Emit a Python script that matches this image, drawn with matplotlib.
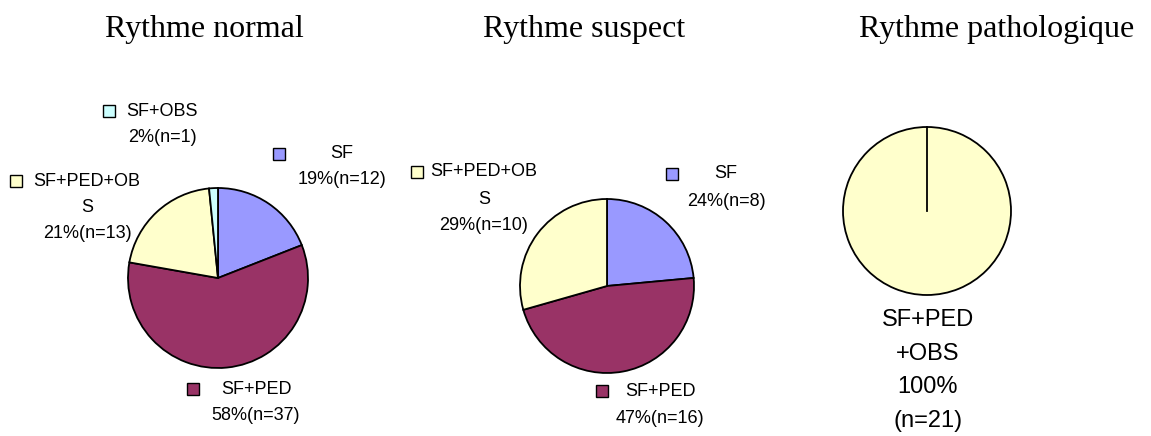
import numpy as np
import matplotlib.pyplot as plt

# données
titles = ['Rythme normal', 'Rythme suspect', 'Rythme pathologique']

cat_normal = ['SF', 'SF+PED', 'SF+PED+OBS', 'SF+OBS']
n_normal = [12, 37, 13, 1]
pct_normal = [19, 58, 21, 2]

cat_suspect = ['SF', 'SF+PED', 'SF+PED+OBS']
n_suspect = [8, 16, 10]
pct_suspect = [24, 47, 29]

cat_patho = ['SF+PED+OBS']
n_patho = [21]
pct_patho = [100]

colors = {'SF': '#9999FF', 'SF+PED': '#993366',
          'SF+PED+OBS': '#FFFFCC', 'SF+OBS': '#CCFFFF'}

W, H = 1151, 436
fig = plt.figure(figsize=(W / 100, H / 100), dpi=100)
ax = fig.add_axes([0, 0, 1, 1])

def yy(y_img):
    # coordonnées image -> coordonnées axes (y vers le haut)
    return H - y_img

def draw_pie(cats, counts, cx, cy, r):
    ax.pie(counts, colors=[colors[c] for c in cats], center=(cx, yy(cy)), radius=r,
           startangle=90, counterclock=False,
           wedgeprops=dict(edgecolor='black', linewidth=1.3))

def draw_label(lines, tx, ty, color=None, mx=None, fs=13, step=27):
    for i, line in enumerate(lines):
        ax.text(tx, yy(ty + i * step), line, ha='center', va='center',
                fontsize=fs, family='Liberation Sans')
    if mx is not None:
        ax.plot(mx, yy(ty), marker='s', ms=8.5, mfc=color, mec='black', mew=1.0)

def lbl(cat, n, p):
    name = cat if len(cat) <= 9 else cat[:9] + '\n' + cat[9:]
    return name.split('\n') + ['%d%%(n=%d)' % (p, n)]

# titres
for t, x in zip(titles, [204, 584, 997]):
    ax.text(x, yy(37), t, ha='center', va='baseline', fontsize=23,
            family='Liberation Serif')

# Rythme normal
draw_pie(cat_normal, n_normal, 218, 278, 90)
pos_normal = [(342, 154, 279), (256, 389, 193), (87, 181, 16), (162, 111, 109)]
for c, n, p, (tx, ty, mx) in zip(cat_normal, n_normal, pct_normal, pos_normal):
    draw_label(lbl(c, n, p), tx, ty, colors[c], mx, step=26)

# Rythme suspect
draw_pie(cat_suspect, n_suspect, 607, 286, 87)
pos_suspect = [(726, 174, 672), (660, 391, 602), (484, 172, 417)]
for c, n, p, (tx, ty, mx) in zip(cat_suspect, n_suspect, pct_suspect, pos_suspect):
    draw_label(lbl(c, n, p), tx, ty, colors[c], mx, step=27)

# Rythme pathologique
cx3, cy3, r3 = 927, 211, 84
draw_pie(cat_patho, n_patho, cx3, cy3, r3)
ax.plot([cx3, cx3], [yy(cy3), yy(cy3) + r3], color='black', lw=1.3)
draw_label(['SF+PED', '+OBS', '%d%%' % pct_patho[0], '(n=%d)' % n_patho[0]],
           928, 320, fs=17, step=33.5)

ax.set_xlim(0, W)
ax.set_ylim(0, H)
ax.set_aspect('auto')
ax.axis('off')

fig.savefig('out.png', dpi=100, facecolor='white')
